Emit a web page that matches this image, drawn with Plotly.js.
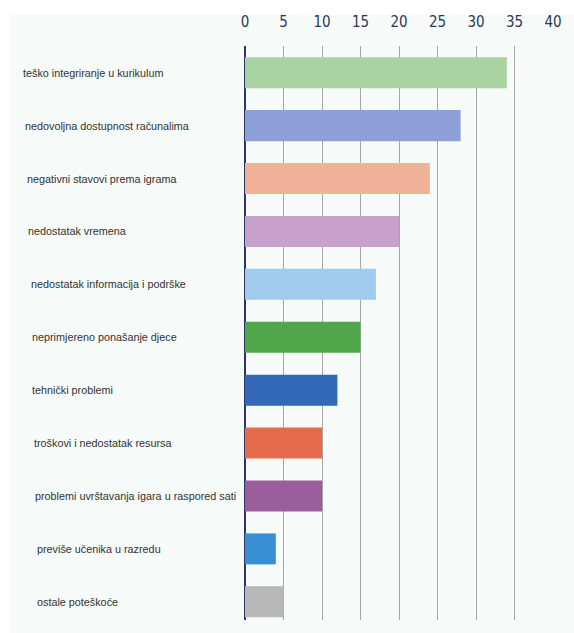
<!DOCTYPE html>
<html>
<head>
<meta charset="utf-8">
<script src="https://cdn.plot.ly/plotly-3.0.1.min.js"></script>
<style>html,body{margin:0;padding:0;background:#fff;}#chart{width:574px;height:633px;}</style>
</head>
<body>
<div id="chart"></div>
<script>
const categories = [
  "teško integriranje u kurikulum",
  "nedovoljna dostupnost računalima",
  "negativni stavovi prema igrama",
  "nedostatak vremena",
  "nedostatak informacija i podrške",
  "neprimjereno ponašanje djece",
  "tehnički problemi",
  "troškovi i nedostatak resursa",
  "problemi uvrštavanja igara u raspored sati",
  "previše učenika u razredu",
  "ostale poteškoće"
];
const values = [34, 28, 24, 20, 17, 15, 12, 10, 10, 4, 5];
const tickValues = [0, 5, 10, 15, 20, 25, 30, 35, 40];

const barColors = ["#a9d3a2", "#8c9fd6", "#f1b198", "#c7a0cb", "#a0cbed", "#4fa64b",
                   "#3268b5", "#e66b4c", "#995e9b", "#3a8fd2", "#b8b8b8"];
const labelIndent = [21, 23, 25, 26, 29, 30, 30, 32, 33, 35, 35];

const plotLeft = 245, plotWidth = 308;

const trace = {
  type: "bar",
  orientation: "h",
  x: values,
  y: categories,
  marker: {color: barColors, line: {width: 0}},
  width: 0.586,
  hoverinfo: "x+y"
};

const annotations = categories.map((c, i) => ({
  text: c,
  xref: "paper",
  yref: "y",
  x: (labelIndent[i] - plotLeft) / plotWidth,
  y: c,
  xanchor: "left",
  yanchor: "middle",
  showarrow: false,
  font: {family: "Liberation Sans, Arial, sans-serif", size: 10.8, color: "#333333"}
}));

const layout = {
  width: 574,
  height: 633,
  margin: {l: plotLeft, r: 21, t: 46, b: 13},
  paper_bgcolor: "#ffffff",
  plot_bgcolor: "rgba(0,0,0,0)",
  showlegend: false,
  xaxis: {
    side: "top",
    range: [0, 40],
    tickvals: tickValues,
    ticktext: tickValues.map(String),
    showgrid: true,
    gridcolor: "#a6a6a6",
    gridwidth: 1,
    zeroline: true,
    zerolinecolor: "#2a3766",
    zerolinewidth: 2,
    showline: false,
    ticks: "",
    ticklabelstandoff: 15,
    tickfont: {family: "DejaVu Sans Condensed, sans-serif", size: 15, color: "#2c3a58"},
    fixedrange: true
  },
  yaxis: {
    type: "category",
    range: [10.344, -0.505],
    showticklabels: false,
    showgrid: false,
    zeroline: false,
    ticks: "",
    fixedrange: true
  },
  shapes: [{
    type: "rect",
    xref: "paper", yref: "paper",
    x0: -0.763, x1: 1.07,
    y0: -0.03, y1: 1.054,
    fillcolor: "#f6faf8",
    line: {width: 0},
    layer: "below"
  }],
  annotations: annotations
};

Plotly.newPlot("chart", [trace], layout, {displayModeBar: false, staticPlot: true});
</script>
</body>
</html>
